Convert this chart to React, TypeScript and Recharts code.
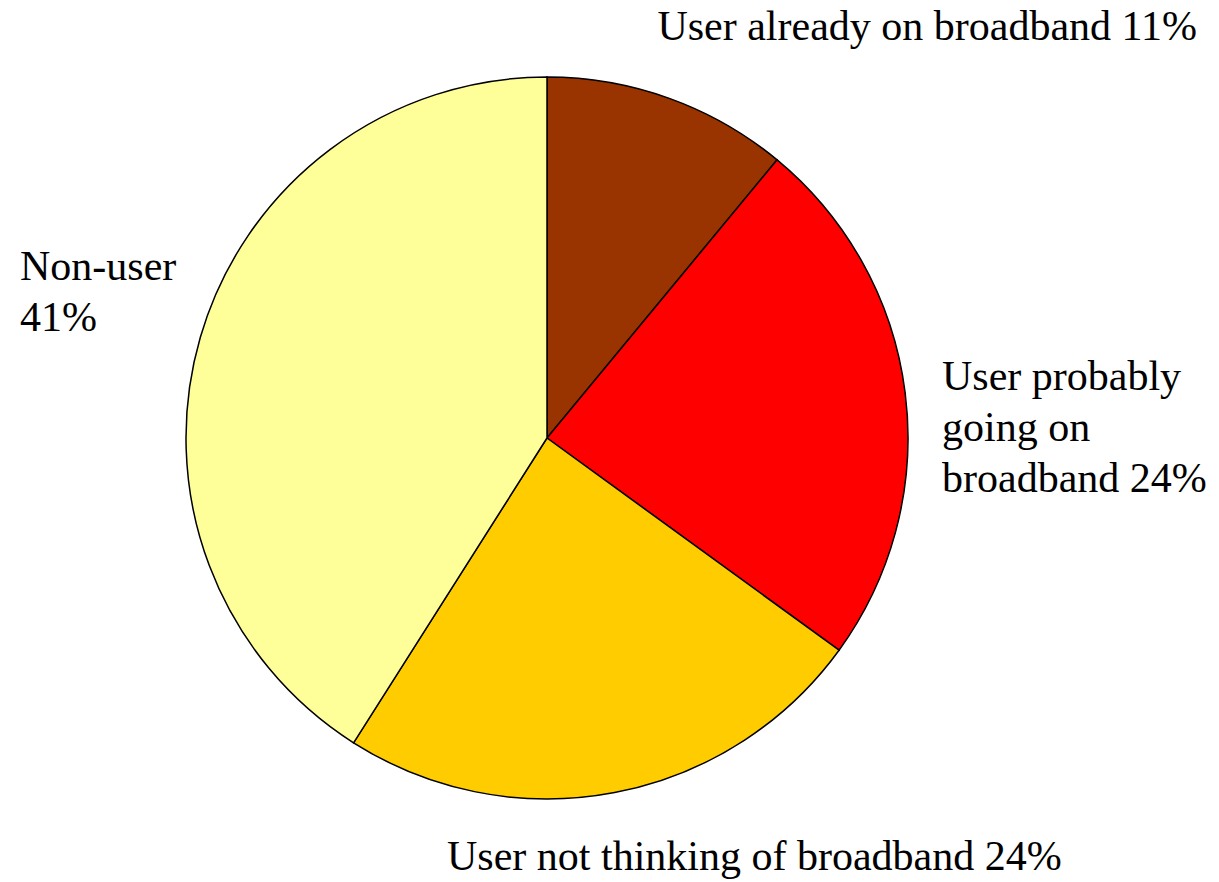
import * as React from 'react';
import { Pie, PieChart, Cell } from 'recharts';

const names = [
  'User already on broadband',
  'User probably going on broadband',
  'User not thinking of broadband',
  'Non-user',
];
const values = [11, 24, 24, 41];
const colors = ['#993300', '#FF0000', '#FFCC00', '#FFFF99'];
// how each label is broken into lines
const labelLines = [
  ['User already on broadband 11%'],
  ['User probably', 'going on', 'broadband 24%'],
  ['User not thinking of broadband 24%'],
  ['Non-user', '41%'],
];

const data = names.map((name, i) => ({ name, value: values[i] }));

// label placement relative to pie centre (dx, dy of first baseline, anchor)
const labelPos: { dx: number; dy: number; anchor: 'start' | 'end' }[] = [
  { dx: 650, dy: -398, anchor: 'end' },
  { dx: 395, dy: -48, anchor: 'start' },
  { dx: -100, dy: 432, anchor: 'start' },
  { dx: -527, dy: -158, anchor: 'start' },
];

const renderLabel = (props: any) => {
  const { cx, cy, index } = props;
  const pos = labelPos[index];
  const lines = labelLines[index];
  return (
    <text
      key={`lbl-${index}`}
      x={cx + pos.dx}
      y={cy + pos.dy}
      textAnchor={pos.anchor}
      fill="#000"
      fontFamily="'Liberation Serif', 'Times New Roman', serif"
      fontSize={42}
    >
      {lines.map((line, i) => (
        <tspan key={i} x={cx + pos.dx} dy={i === 0 ? 0 : 51}>
          {line}
        </tspan>
      ))}
    </text>
  );
};

const App = () => {
  return (
    <div
      style={{
        position: 'absolute',
        left: 0,
        top: 0,
        width: 1219,
        height: 882,
        background: '#fff',
      }}
    >
      <PieChart width={1219} height={882} margin={{ top: 0, right: 0, bottom: 0, left: 0 }}>
        <Pie
          data={data}
          dataKey="value"
          nameKey="name"
          cx={547}
          cy={438}
          outerRadius={361}
          startAngle={90}
          endAngle={-270}
          stroke="#000"
          strokeWidth={1.5}
          label={renderLabel}
          labelLine={false}
          isAnimationActive={false}
        >
          {data.map((d, i) => (
            <Cell key={d.name} fill={colors[i]} />
          ))}
        </Pie>
      </PieChart>
    </div>
  );
};

export default App;
